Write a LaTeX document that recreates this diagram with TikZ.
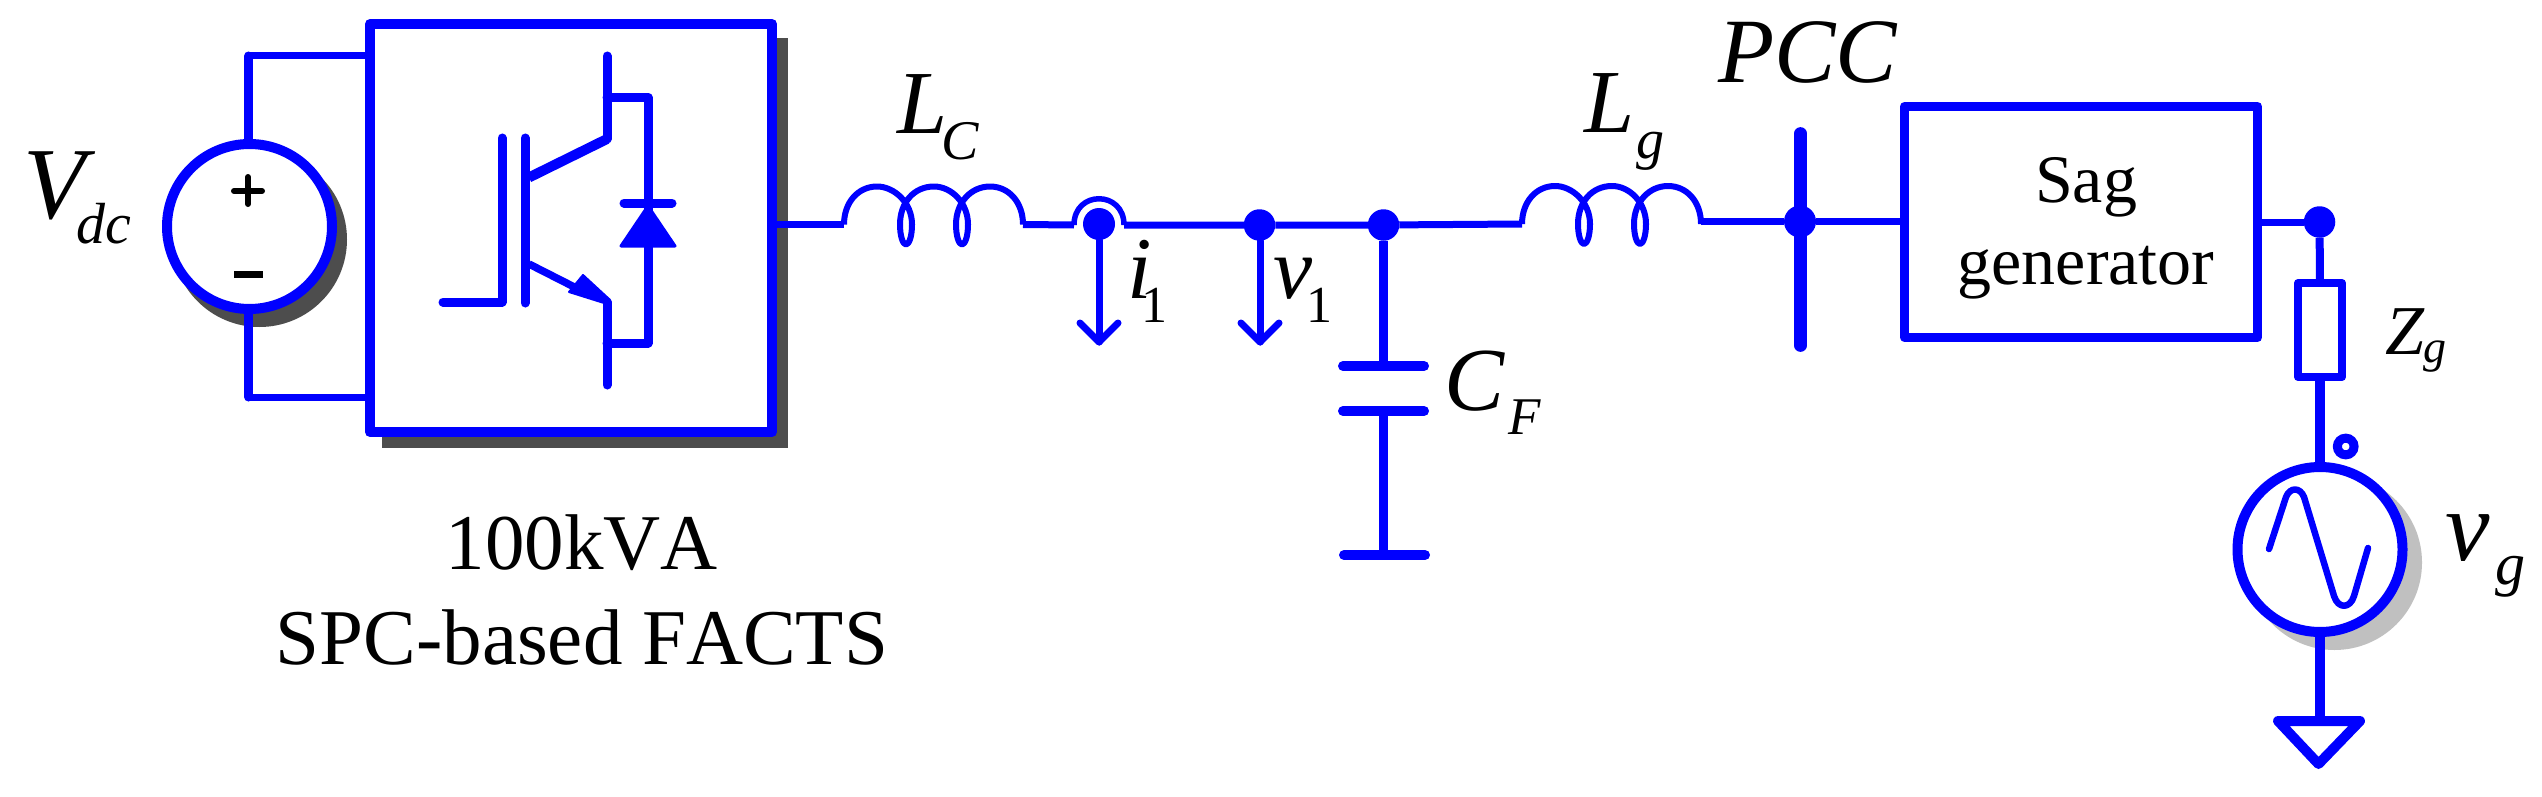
\documentclass[tikz,border=0pt]{standalone}
\usepackage{fontspec}
\setmainfont{Liberation Serif}
\definecolor{wireblue}{RGB}{0,0,255}
\definecolor{shadowdark}{RGB}{77,77,77}
\definecolor{shadowlight}{RGB}{192,192,192}
% #1 main size, #2 main text, #3 kern, #4 sub size, #5 drop, #6 sub text
\newcommand{\sublabel}[6]{\fontsize{#1}{#1}\selectfont\itshape #2\kern#3pt\raisebox{-#5pt}{\fontsize{#4}{#4}\selectfont #6}}
\tikzset{
  x=1pt,y=-1pt,
  wire/.style={draw=wireblue,line width=9pt,line cap=round,line join=round},
  hwire/.style={draw=wireblue,line width=7pt},
  arrowwire/.style={draw=wireblue,line width=7pt,line cap=round,line join=round},
  blockbox/.style={draw=wireblue,fill=white,rectangle,inner sep=0pt,outer sep=0pt,line join=round},
  srcring/.style={draw=wireblue,fill=white,circle,inner sep=0pt,outer sep=0pt,line width=10pt,minimum size=165pt},
  junction/.style={fill=wireblue,circle,inner sep=0pt,outer sep=0pt,minimum size=31.5pt},
  labeltext/.style={anchor=base west,inner sep=0pt,text=black},
  plate/.style={draw=wireblue,line width=10pt,line cap=round},
  coil/.pic={
    \coordinate (-a) at (0,0);
    \coordinate (-b) at (179,0);
    \draw[draw=wireblue,line width=6pt,line join=round]
      (0,0) .. controls (0,-22) and (14,-38) .. (33,-38)
      .. controls (50,-38) and (68,-22) .. (68,0)
      .. controls (68,12) and (65,20) .. (62,20)
      .. controls (59,20) and (56,12) .. (56,0)
      .. controls (56,-22) and (70,-38) .. (90,-38)
      .. controls (107,-38) and (124,-22) .. (124,0)
      .. controls (124,12) and (121,20) .. (118,20)
      .. controls (115,20) and (112,12) .. (112,0)
      .. controls (112,-22) and (127,-38) .. (146,-38)
      .. controls (165,-38) and (179,-22) .. (179,0);
  }
}
\begin{document}
\begin{tikzpicture}
\useasboundingbox (0,0) rectangle (2542,797);
% shadows
\fill[shadowdark] (382,38) rectangle (788,448);
\fill[shadowdark] (259.5,239.5) circle[radius=87.5pt];
\fill[shadowlight] (2334.5,562.5) circle[radius=87.5pt];
% converter block
\node[blockbox,line width=10pt,minimum width=402pt,minimum height=408pt] (conv) at (571,228) {};
% dc source
\node[srcring] (vdc) at (249.5,226.5) {};
\coordinate (dctop) at (248.5,56);
\coordinate (dcbot) at (248.5,397);
\draw[wire] (vdc.north -| dctop) -- (dctop);
\draw[wire] (vdc.south -| dcbot) -- (dcbot);
\draw[hwire] (dctop) -- (dctop -| conv.west);
\draw[hwire] (dcbot) -- (dcbot -| conv.west);
\draw[draw=black,line width=6pt,line cap=round] (234,191) -- (262,191) (248,177) -- (248,204);
\draw[draw=black,line width=7pt] (234,274) -- (263,274);
% IGBT and diode
\coordinate (gatel) at (443,302);
\coordinate (gatec) at (502,302);
\coordinate (gatet) at (502,138);
\coordinate (bart) at (525,138);
\coordinate (barb) at (525,303);
\coordinate (cbase) at (529,177.5);
\coordinate (ebase) at (529,264);
\coordinate (ctop) at (607,56);
\coordinate (cknee) at (607,139);
\coordinate (eknee) at (607,302);
\coordinate (ebot) at (607,385);
\coordinate (dtop) at (648,97.5);
\coordinate (dbot) at (648,343);
\coordinate (ctap) at (607,97.5);
\coordinate (etap) at (607,343);
\coordinate (emid) at (590,295);
\draw[wire] (gatel) -- (gatec) -- (gatet);
\draw[wire] (bart) -- (barb);
\draw[wire] (ctop) -- (cknee);
\draw[draw=wireblue,line width=10pt] (cknee) -- (cbase);
\draw[draw=wireblue,line width=7.5pt] (ebase) -- (emid);
\draw[wire] (eknee) -- (ebot);
\fill[wireblue,draw=wireblue,line width=2pt,line join=round] (583,275) -- (569,292) -- (604,303) -- (609,299) -- cycle;
\draw[wire] (ctap) -- (dtop) -- (dbot) -- (etap);
\draw[draw=wireblue,line width=9pt,line cap=round] (624,203) -- (672,203);
\fill[wireblue,draw=wireblue,line width=3pt,line join=round] (648,206) -- (675,246) -- (621,246) -- cycle;
% inductors and main bus
\pic (lc) at (844,224.5) {coil};
\pic (lg) at (1522,224) {coil};
\node[junction,minimum size=32pt] (i1dot) at (1099,224) {};
\node[junction] (v1dot) at (1259.5,225) {};
\node[junction] (cfdot) at (1383.5,225) {};
\node[junction,minimum size=32pt] (pccdot) at (1800,221.5) {};
\node[junction] (zgdot) at (2319.5,222) {};
\coordinate (brl) at (1074,225);
\coordinate (brr) at (1124,225);
\draw[hwire] (conv.east |- lc-a) -- (lc-a);
\draw[hwire] (lc-b) -- (brl);
\draw[draw=wireblue,line width=5.5pt] (brl) .. controls (1074,190) and (1124,190) .. (brr);
\draw[hwire] (brr) -- (v1dot) -- (cfdot) -- (lg-a);
\draw[hwire] (lg-b |- pccdot) -- (pccdot);
% current and voltage arrows
\coordinate (i1tip) at (1099,342);
\coordinate (v1tip) at (1260,342);
\draw[arrowwire] (i1dot) -- (i1tip);
\draw[arrowwire] (1080,323) -- (i1tip) -- (1118,323);
\draw[arrowwire] (v1dot.south -| v1tip) -- (v1tip);
\draw[arrowwire] (1241,323) -- (v1tip) -- (1279,323);
% filter capacitor
\coordinate (cfa) at (1383.5,366);
\coordinate (cfb) at (1383.5,411);
\coordinate (cfc) at (1383.5,555);
\draw[wire,line cap=butt] (cfdot) -- (cfa);
\draw[wire,line cap=butt] (cfb) -- (cfc);
\draw[plate] (1343,366) -- (1424,366);
\draw[plate] (1343,411) -- (1424,411);
\draw[plate] (1344,555) -- (1425,555);
% PCC bar
\coordinate (pcct) at (1800.5,133.5);
\coordinate (pccb) at (1800.5,345.5);
\draw[draw=wireblue,line width=12.7pt,line cap=round] (pcct) -- (pccb);
% sag generator
\node[blockbox,line width=9pt,minimum width=353pt,minimum height=231pt] (sag) at (2081,222) {};
\node[inner sep=0pt,align=center,font=\fontsize{68}{82}\selectfont] (sagtext) at (2086,228.5) {Sag\\generator};
\draw[hwire] (pccdot) -- (pccdot -| sag.west);
\draw[hwire] (sag.east |- zgdot) -- (zgdot);
% grid impedance and source
\node[blockbox,line width=8pt,minimum width=44pt,minimum height=94pt] (zg) at (2320,330) {};
\node[srcring] (vg) at (2320,549.5) {};
\node[draw=wireblue,fill=white,circle,inner sep=0pt,outer sep=0pt,line width=9pt,minimum size=16.7pt] (vgdot) at (2345.7,446.5) {};
\draw[draw=wireblue,line width=8pt] (zgdot) -- (zg.north);
\draw[draw=wireblue,line width=10pt] (zg.south) -- (vg.north);
\draw[draw=wireblue,line width=6.5pt,line cap=round,line join=round]
  (2269,549) -- (2286,497) .. controls (2290,487) and (2300,487) .. (2304,497)
  -- (2334,596) .. controls (2338,609) and (2350,609) .. (2354,596) -- (2368,548);
% ground
\coordinate (gnd) at (2320,721);
\draw[draw=wireblue,line width=10pt] (vg.south) -- (gnd);
\draw[draw=wireblue,line width=10pt,line join=round,fill=white] (2278,721) -- (2360,721) -- (2318.5,764) -- cycle;
% labels
\node[labeltext] (vdclabel) at (23,218) {\sublabel{102}{V}{-9}{58}{25}{dc}};
\node[inner sep=0pt,align=center,font=\addfontfeature{Kerning=Off}\fontsize{79}{95}\selectfont] (convlabel) at (582,590) {100kVA\\SPC-based FACTS};
\node[labeltext] (lclabel) at (897,134) {\sublabel{90}{L}{-6}{56}{25}{C}};
\node[labeltext] (lglabel) at (1584,132) {\sublabel{90}{L}{2}{56}{26}{g}};
\node[labeltext] (i1label) at (1127,298) {\sublabel{88}{i}{-10}{52}{24}{\upshape 1}};
\node[labeltext] (v1label) at (1273,298) {\sublabel{88}{v}{-6}{52}{24}{\upshape 1}};
\node[labeltext] (cflabel) at (1444,410.5) {\sublabel{90}{C}{4}{53}{24}{F}};
\node[labeltext,font=\itshape\addfontfeature{Kerning=Off}\fontsize{92}{92}\selectfont] (pcclabel) at (1718,83) {PCC};
\node[labeltext] (zglabel) at (2385,354) {\sublabel{70}{Z}{-1}{46}{8}{g}};
\node[labeltext] (vglabel) at (2445,560) {\sublabel{100}{v}{6}{60}{24}{g}};
\end{tikzpicture}
\end{document}
